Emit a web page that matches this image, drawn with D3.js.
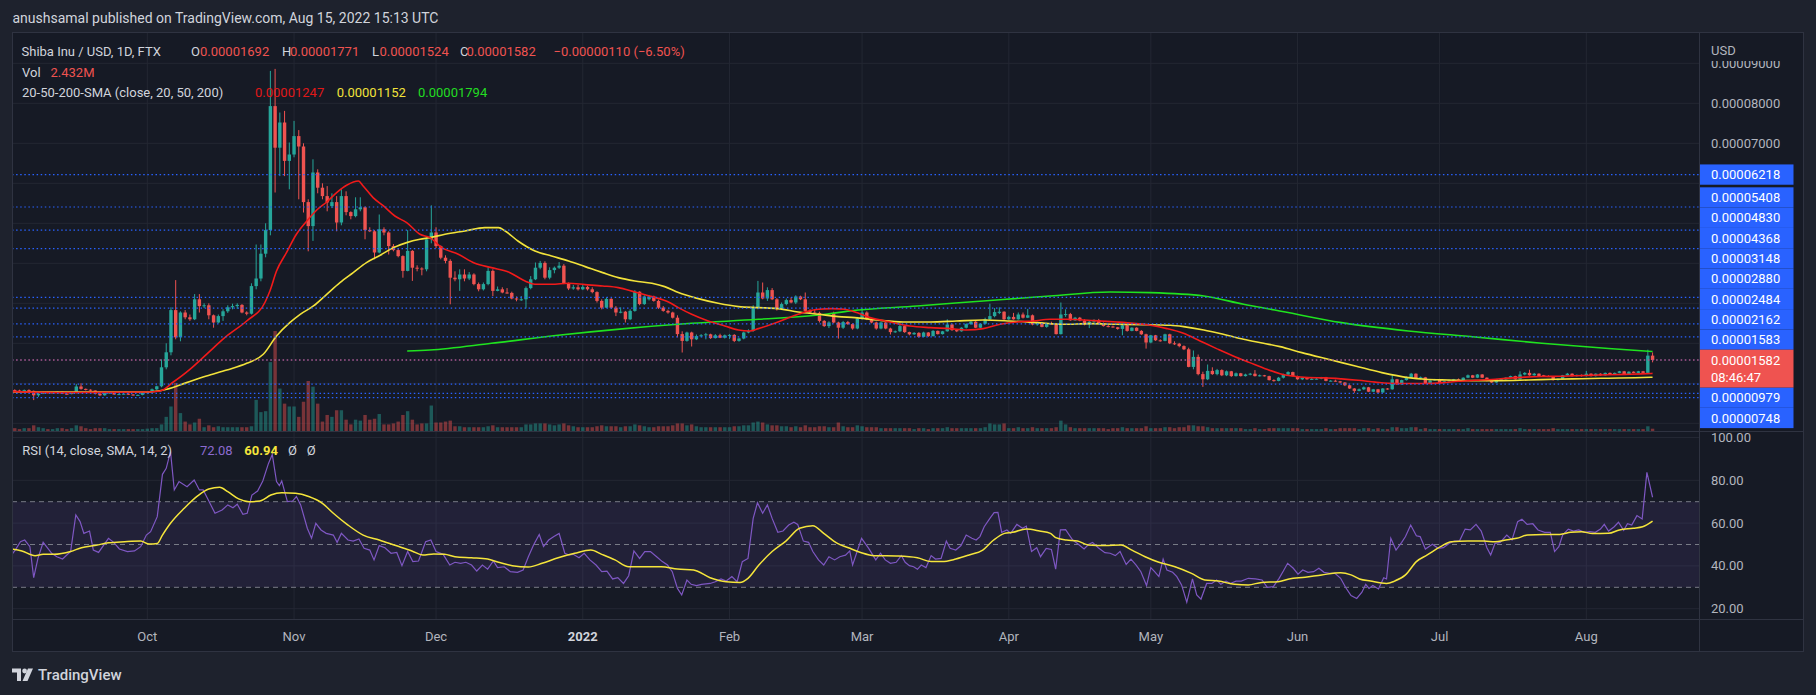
<!DOCTYPE html>
<html><head><meta charset="utf-8">
<script src="https://cdn.jsdelivr.net/npm/d3@7"></script>
<style>
html,body{margin:0;padding:0;background:#1e222d;}
svg{display:block;font-family:Roboto,"Noto Sans",sans-serif;}
</style></head><body>
<svg id="c" width="1816" height="695"></svg>
<script>
// ---------------- DATA ----------------
// prices in units of 1e-8 USD; day index d counted from 2021-10-01 (first candle d = -29)
const firstDay = -29;
const open = [
820,830,820,810,830,810,700,740,780,760, 770,790,740,730,760,920,860,840,820,740,
700,760,770,720,730,740,720,700,710, 760,780,850,925,1400,1775,2830,2150,2770,2650,
2600,3100,2930,2950,2700,2520,2680,2800,2900,2930, 2960,2770,2740,3430,3620,4240,4830,7930,6890,7520,
6560,6720,7180,6920,5530,4930,6270,5890,5680,5430, 5530,5020,5680,5280,5180,5350,5400,4830,4800,4270,
4850,4770,4430,4330,4180,3810,4310,3890,3870,3850, 4600,4770,4430,4140,4060,3640,3600,3720,3620,3720,
3480,3350,3480,3810,3310,3350,3270,3260,3120,3100, 3100,3380,3600,3890,4010,3640,3830,3890,3940,3500,
3370,3400,3350,3410,3350,3280,3060,2890,3110,2890, 2770,2790,2600,2810,3290,2980,3100,3170,3060,2890,
2810,2770,2640,2230,2060,2270,2100,2180,2200,2225, 2130,2200,2140,2200,2210,2060,2120,2270,2310,2890,
3270,3120,3330,3100,2850,2980,3080,3020,3170,3100, 2810,2770,2760,2560,2430,2740,2520,2390,2530,2480,
2370,2620,2770,2600,2520,2370,2520,2370,2280,2300, 2430,2280,2225,2260,2160,2270,2180,2310,2230,2300,
2470,2330,2300,2390,2480,2540,2390,2490,2600,2680, 2760,2790,2600,2660,2600,2720,2640,2700,2470,2520,
2410,2490,2480,2230,2720,2730,2575,2640,2570,2470, 2540,2580,2500,2430,2420,2400,2360,2450,2310,2390,
2310,2225,2020,2200,2075,2060,2225,2000,1990,1930, 1850,1410,1660,1230,1100,1310,1230,1330,1200,1300,
1180,1250,1180,1220,1240,1180,1200,1180,1080,1060, 1140,1220,1280,1180,1100,1140,1100,1110,1115,1150,
1060,1065,1050,1020,950,870,810,850,900,790, 850,770,870,850,1100,975,1080,1140,1240,1120,
1150,1000,1070,1100,1010,1050,1075,1100,1060,1140, 1200,1140,1220,1140,1060,1020,1100,1100,1140,1180,
1100,1220,1260,1200,1240,1200,1180,1175,1080,1110, 1200,1240,1180,1210,1180,1240,1180,1240,1200,1260,
1220,1260,1300,1220,1290,1260,1300,1260,1692
];
const high = [
860,850,840,845,850,820,760,790,790,780, 800,795,750,770,980,1000,870,850,825,760,
770,780,775,740,750,750,730,720,770, 800,870,940,1600,2000,2900,3580,2800,2830,2720,
3230,3230,3000,3000,2720,2720,2850,2950,2990,3000, 2980,2800,3500,4470,4470,5000,8810,8860,7770,7810,
7020,7560,7330,7000,5600,6600,6350,6000,5930,5750, 5680,5850,5800,5300,5650,5650,5420,4900,4830,5220,
4900,4800,4480,4360,4200,4830,4330,3950,3900,4650, 5450,4900,4450,4200,4100,3800,3850,3850,3780,3750,
3520,3520,3900,3850,3420,3400,3380,3290,3170,3180, 3420,3680,4020,4060,4050,3900,3920,4030,3980,3520,
3460,3460,3470,3440,3400,3300,3100,3150,3130,2930, 2900,2810,2850,3330,3300,3200,3210,3190,3090,2930,
2840,2790,2700,2300,2290,2290,2220,2230,2260,2240, 2230,2240,2220,2230,2230,2140,2290,2350,2950,3560,
3520,3400,3380,3130,3020,3120,3150,3200,3190,3270, 2850,2850,2790,2580,2550,2790,2540,2560,2560,2500,
2660,2890,2800,2620,2540,2540,2530,2390,2320,2520, 2440,2290,2280,2280,2290,2280,2330,2320,2310,2600,
2490,2350,2400,2500,2570,2560,2500,2640,2990,2880, 2900,2800,2690,2760,2770,2770,2860,2720,2540,2530,
2510,2540,2500,3020,2850,2760,2660,2660,2600,2560, 2600,2610,2520,2460,2440,2410,2490,2470,2400,2400,
2330,2240,2210,2210,2100,2240,2240,2050,2010,1950, 1890,1820,1720,1290,1470,1400,1360,1350,1320,1310,
1270,1260,1240,1260,1330,1220,1210,1190,1100,1160, 1240,1300,1290,1190,1160,1150,1130,1130,1160,1160,
1080,1090,1060,1030,960,880,870,920,910,860, 860,880,880,1220,1110,1090,1170,1260,1250,1170,
1160,1080,1110,1110,1060,1090,1110,1120,1150,1220, 1210,1230,1230,1150,1070,1110,1110,1150,1190,1190,
1300,1280,1340,1260,1250,1210,1200,1180,1120,1210, 1260,1250,1220,1220,1310,1250,1250,1250,1270,1270,
1270,1310,1310,1300,1300,1310,1310,1840,1771
];
const low = [
800,805,800,800,790,580,660,730,745,750, 760,730,715,725,750,840,820,800,720,680,
690,740,710,710,720,710,690,690,700, 740,770,830,900,1350,1700,2100,2050,2600,2560,
2580,2770,2880,2600,2390,2500,2560,2760,2850,2860, 2750,2700,2720,3350,3550,4150,4700,5770,6180,6180,
5850,6650,5600,5270,4300,4560,5750,5600,5300,5380, 4800,4950,5200,5100,5150,5300,4600,4780,4100,4250,
4700,4220,4300,4150,3640,3800,3560,3800,3700,3800, 4500,4380,4100,4000,2975,3550,3310,3550,3580,3450,
3300,3320,3450,3180,3300,3250,3240,3100,3050,3060, 2870,3350,3580,3850,3600,3600,3750,3860,3480,3330,
3340,3320,3330,3320,3250,3020,2850,2880,2860,2680, 2750,2520,2580,2790,2950,2960,3070,3040,2860,2790,
2740,2620,2150,1770,2040,1920,2080,2150,2100,2110, 2120,2130,2120,2110,2030,2040,2100,2250,2290,2850,
3100,3060,3080,2820,2830,2950,3000,2980,3080,2790, 2740,2740,2520,2410,2380,2500,2117,2360,2460,2340,
2350,2590,2580,2500,2340,2350,2350,2220,2260,2280, 2260,2200,2210,2140,2150,2160,2170,2220,2220,2290,
2310,2280,2290,2370,2460,2380,2370,2470,2580,2650, 2730,2580,2580,2590,2590,2620,2630,2450,2440,2400,
2390,2470,2220,2220,2660,2560,2560,2550,2450,2380, 2510,2480,2420,2400,2390,2340,2200,2290,2300,2300,
2210,1867,2000,2060,2040,2050,1980,1960,1900,1830, 1400,1350,1200,910,1080,1210,1200,1180,1180,1160,
1170,1170,1170,1200,1170,1170,1170,1070,1040,1050, 1120,1200,1170,1090,1080,1090,1090,1100,1100,1050,
1050,1040,1000,930,860,760,800,830,780,780, 760,760,840,840,960,960,1070,1130,1110,1100,
990,990,1060,1000,1000,1040,1070,1050,1050,1130, 1130,1130,1130,1050,1010,1010,1090,1090,1130,1090,
1090,1200,1190,1190,1170,1170,1170,1070,1070,1100, 1190,1170,1170,1170,1170,1170,1170,1190,1190,1210,
1210,1250,1210,1210,1250,1250,1250,1250,1524
];
const close = [
830,820,810,830,810,700,740,780,760,770, 790,740,730,760,920,860,840,820,740,700,
760,770,720,730,740,720,700,710,760, 780,850,925,1400,1775,2830,2150,2770,2650,2600,
3100,2930,2950,2700,2520,2680,2800,2900,2930,2960, 2770,2740,3430,3620,4240,4830,7930,6890,7520,6560,
6720,7180,6920,5530,4930,6270,5890,5680,5520,5530, 5020,5680,5280,5180,5350,5400,4830,4800,4270,4850,
4770,4430,4330,4180,3810,4310,3890,3870,3850,4600, 4770,4430,4140,4060,3640,3600,3720,3620,3720,3480,
3350,3480,3810,3310,3350,3270,3260,3120,3100,3100, 3380,3600,3890,4010,3640,3830,3890,3940,3500,3370,
3400,3350,3410,3350,3280,3060,2890,3110,2890,2770, 2790,2600,2810,3290,2980,3170,3170,3060,2890,2810,
2770,2640,2230,2060,2270,2100,2180,2200,2225,2130, 2200,2140,2200,2210,2060,2120,2270,2310,2890,3270,
3120,3330,3100,2850,2980,3080,3020,3170,3100,2810, 2770,2760,2560,2430,2520,2520,2390,2530,2480,2370,
2620,2770,2600,2520,2370,2520,2370,2280,2300,2430, 2280,2225,2260,2160,2270,2180,2310,2230,2300,2470,
2330,2300,2390,2480,2540,2390,2490,2600,2680,2780, 2790,2600,2660,2600,2720,2640,2700,2470,2520,2410,
2490,2480,2230,2720,2730,2575,2640,2570,2470,2540, 2580,2500,2430,2420,2400,2360,2450,2310,2390,2310,
2225,2020,2200,2075,2060,2225,2000,1990,1930,1850, 1410,1660,1230,1100,1310,1230,1330,1200,1300,1180,
1250,1180,1220,1240,1180,1200,1180,1080,1060,1140, 1220,1280,1180,1100,1140,1100,1110,1115,1150,1060,
1065,1050,1020,950,870,810,850,900,790,850, 770,870,850,1100,975,1080,1140,1240,1120,1150,
1000,1070,1100,1010,1050,1075,1100,1060,1140,1200, 1140,1220,1140,1060,1020,1100,1105,1140,1180,1100,
1220,1260,1200,1240,1180,1180,1175,1080,1110,1200, 1240,1180,1210,1180,1240,1180,1240,1200,1260,1220,
1260,1300,1220,1290,1260,1300,1260,1692,1582
];
const volume = [ // millions
3,3,2,3,3,6,4,3,2,2, 3,3,2,3,6,5,3,2,3,3,
3,2,2,2,2,2,2,2,2, 2.5,3,3,7,15,26,51,19,10,7,
9,13,4,6,4,5,4,4,4,4, 4,4,5,33,20,21,73,106,45,29,
26,26,15,31,53,47,29,10,17,15, 22,22,12,7,12,11,17,12,13,18,
7,7,8,10,17,21,12,7,8,8, 27,9,9,10,11,5,5,4,4,4,
4,4,5,6,4,4,4,4,4,4, 7,7,8,8,8,7,6,7,8,6,
5,4,4,4,4,5,6,5,5,5, 4,5,5,7,6,5,4,4,5,5,
5,6,8,8,6,7,5,4,4,4, 4,4,4,4,5,5,6,6,9,10,
9,7,6,6,5,5,4,5,4,6, 4,4,5,5,4,4,9,5,4,4,
6,5,4,4,4,3,3,3,3,3, 3,3,2,3,3,2,3,3,3,4,
3,3,3,3,3,3,3,4,8,7, 7,8,3,3,4,3,3,4,3,3,
3,3,4,11,7,4,3,3,3,3, 3,3,3,2,3,3,4,3,3,3,
3,5,3,3,3,4,4,3,4,4, 6,6,5,5,4,3,3,3,3,3,
3,3,2,2,3,2,2,3,3,3, 3,3,3,3,2,2,2,2,2,3,
2,2,3,3,3,3,2,3,3,2, 3,2,2,4,4,3,3,4,4,2,
3,2,2,2,2,2,2,2,2,3, 2,2,2,2,2,2,2,2,2,2,
3,2,2,2,2,2,2,3,2,2, 2,2,2,2,2,2,2,2,2,2,
2,2,2,2,2,2,2,5,2.432
];
// moving averages: [day index, value]
const sma20 = [[-29,792],[-17,767],[-0.1,783],[2.7,808],[5.5,1033],[9,1350],[12.5,1725],[16.8,2183],[21,2558],[24.9,3033],[25.9,3308],[27.3,3808],[29.4,4267],[31.5,4725],[33.7,5058],[35.8,5333],[37.9,5533],[40,5767],[42.1,5950],[44.6,6058],[45.6,5933],[47.7,5642],[49.9,5433],[52.3,5183],[54.8,5017],[57.6,4725],[59.7,4642],[62.2,4392],[65.7,4225],[69.2,4000],[72.7,3892],[76.3,3783],[79.8,3558],[81.9,3475],[85.4,3475],[89,3500],[92.5,3467],[96.2,3433],[99.5,3392],[103,3283],[106.6,3167],[110.1,3033],[112.2,2892],[115,2725],[118.5,2558],[122,2433],[124.9,2333],[127.3,2308],[129.1,2367],[131.9,2475],[134.7,2600],[137.5,2725],[139.7,2808],[141.8,2850],[144.6,2867],[147.4,2850],[149.5,2783],[152.7,2642],[156.9,2533],[161.1,2433],[165.4,2392],[169.6,2367],[173.1,2333],[176.6,2367],[180.2,2475],[183.7,2533],[187.2,2558],[190.7,2600],[194.3,2600],[197.8,2583],[201.3,2558],[204.8,2533],[208.4,2500],[211.9,2450],[215.4,2367],[218.9,2250],[222.4,2058],[225.9,1867],[229.4,1683],[232.9,1517],[236.5,1350],[239.3,1240],[241.8,1183],[245.3,1142],[248.8,1135],[252.3,1110],[255.8,1075],[259.4,1030],[262.2,1000],[266.4,995],[270,995],[273.5,1010],[277,1050],[280.5,1075],[284,1095],[287.6,1130],[291.1,1155],[294.6,1170],[298.1,1175],[301.6,1190],[305.1,1200],[308.7,1212],[312.2,1222],[315.7,1235],[318,1247]];
const sma50 = [[-29,783],[-10,783],[-0.1,783],[4.1,850],[8.3,1017],[12.5,1183],[16.8,1333],[21,1500],[24.5,1725],[27.3,2183],[30.1,2517],[32.3,2725],[35.1,2933],[37.9,3225],[40.7,3517],[43.5,3767],[46.3,4017],[49.2,4200],[52,4392],[54.8,4517],[57.6,4600],[59.7,4642],[62.9,4725],[67.1,4808],[71.3,4892],[74.2,4892],[75.6,4808],[78.3,4558],[81.9,4308],[85.4,4183],[89,4058],[92.5,3917],[96.2,3767],[99.5,3642],[103,3558],[106.6,3500],[109.3,3417],[112.2,3267],[116.4,3117],[120.6,3000],[124.9,2917],[129.1,2892],[133.3,2867],[137.5,2783],[141.8,2725],[146,2667],[149.5,2642],[154.1,2583],[159.7,2533],[165.4,2533],[170.9,2558],[176.6,2583],[182.2,2558],[187.9,2517],[193.5,2475],[199.2,2492],[204.8,2475],[210.5,2467],[216.1,2450],[218.9,2417],[223.2,2333],[227.3,2225],[231.6,2100],[235.8,2000],[239.3,1917],[243.9,1767],[249.5,1600],[255.2,1433],[260.8,1267],[266.4,1142],[270,1100],[274.9,1083],[280.5,1067],[286.1,1067],[291.8,1083],[297.4,1100],[303,1115],[308.7,1128],[314.3,1140],[318,1152]];
const sma200 = [[54.9,1808],[59.7,1833],[72.7,2000],[86.8,2200],[100.9,2367],[115,2500],[129.1,2600],[143.2,2725],[148.5,2810],[162.6,2933],[176.6,3058],[190.7,3183],[203.4,3283],[211.9,3267],[223.2,3183],[231.6,2975],[238.2,2833],[252.3,2517],[266.4,2308],[280.5,2158],[294.6,2000],[308.7,1870],[318,1794]];
// RSI(14) and its SMA(14)
const rsi = [[-28.6,45.4],[-27.9,47.4],[-26.8,51.3],[-25.9,52.1],[-24.8,49],[-24,34.5],[-23.1,43.5],[-22,51],[-20.2,45.9],[-19.1,44.3],[-17.9,43.2],[-16.2,46.7],[-15.1,63.8],[-14.2,60.7],[-13.4,55.2],[-12.2,56.3],[-11.4,47.4],[-10.3,46.3],[-8.2,52.9],[-7.1,51],[-5.9,47.9],[-4.2,46.7],[-2.7,47],[-1.4,49],[-0.2,54.4],[0.7,56],[2.1,63],[3.2,82.8],[4,85.6],[4.9,93.4],[5.7,75.5],[6.7,79.4],[8.4,77],[9.9,80.1],[11,75.5],[11.8,75.5],[13,70.3],[14.3,64.6],[15.8,66.1],[17,68.5],[18.1,67.2],[19,68.8],[20.2,64.1],[21.1,64.6],[22.1,73.1],[23.3,75],[24.4,79.7],[25.6,87.9],[26.4,92.1],[27.3,79.4],[27.9,77.5],[28.4,79.7],[29.6,70],[30.7,70.3],[31.5,72.4],[32.4,68.5],[33.8,57.6],[34.7,52.9],[35.6,59.9],[36.7,56.8],[37.8,55.2],[39.3,54.4],[40.1,51],[41,55.2],[42.4,52.1],[43.5,51.6],[44.7,52.6],[45.8,48.2],[47,47.4],[47.9,42.8],[49,49.5],[50.2,48.5],[51.5,45.9],[52.7,46.3],[53.8,40.1],[55,46.7],[56.1,42],[57.3,42.3],[58.8,51.3],[59.9,52.1],[61,46.7],[62.5,45.4],[63.9,40.4],[65,41.7],[66.2,41.2],[67.3,41.7],[68.5,40.4],[69.6,37.6],[70.8,40.4],[71.9,38.5],[73.1,42.3],[74,39.2],[75.4,39.6],[76.7,37.3],[78.2,37],[79.4,38.1],[80.5,44.3],[81.6,49.8],[82.8,54.7],[83.7,49],[84.8,52.1],[85.9,53.7],[87,55.2],[88.2,45.9],[89.1,45.1],[90,45.4],[91.2,43.8],[92.3,45.9],[93.5,42.8],[94.8,40.4],[96,37.3],[97.1,37.6],[98.3,33.9],[99.4,34.5],[100.6,31.8],[101.7,35.4],[102.8,47],[104,43.5],[105.1,46.7],[106.3,46.7],[107.6,44.3],[108.8,42],[109.9,40.4],[110.9,37.3],[112,29.5],[112.9,26.4],[114,33.4],[114.9,31.4],[116,30.8],[117.1,31.4],[118.9,31.8],[120,32.6],[121.2,33.9],[122.3,32.9],[123.5,35],[124.6,32.6],[125.7,42],[126.9,43.5],[128,62.2],[128.9,69.5],[130,64.6],[131,68.5],[132,62.2],[133.2,55.7],[134.3,56.3],[135.5,59.1],[136.6,60.4],[137.4,59.4],[138.6,51.6],[139.7,51],[140.6,46.7],[141.8,42.8],[142.9,40.4],[144,44.3],[145.2,42.8],[146.3,44.3],[147.5,45],[148.4,47],[149,40.4],[150.9,52.9],[152.4,48.2],[153.9,42.8],[154.9,45.9],[155.9,42.8],[157,41.2],[158.2,41.7],[159.3,44.8],[160.1,41.7],[161,40.1],[161.9,39.6],[162.7,38.4],[163.5,40.4],[164.5,39.2],[165.6,44.8],[166.5,43.2],[167.7,43.5],[168.8,51.6],[169.6,48.2],[170.8,47.4],[171.9,49.5],[173,54.4],[174.2,52.9],[175.1,52.1],[175.9,53.7],[176.8,58.3],[178,62.2],[178.9,64.9],[179.7,65],[180.5,55.7],[181.6,56.8],[182.4,55.2],[183.7,59.4],[184.9,57.6],[185.7,58.6],[186.8,46.7],[187.9,48.5],[188.7,44.3],[189.9,48.2],[191,47.7],[191.9,38.5],[192.9,56.8],[194,56.9],[195.5,52.1],[196.5,50.5],[197.9,47.9],[198.9,50.1],[199.7,51],[200.9,48.5],[202.3,46.2],[203.4,45.9],[204.5,44.8],[205.5,46.7],[206.8,40.7],[207.8,43.2],[208.9,40.4],[209.9,37.3],[211.1,30.8],[212,39.2],[212.8,37.3],[213.7,35],[214.6,43.2],[215.4,38.1],[216.6,37],[217.5,35],[218.5,31.1],[219.6,23],[220.8,33.9],[221.7,26.4],[222.6,24.5],[223.8,31.8],[224.9,31.8],[225.9,33.4],[226.8,31.4],[227.9,32.9],[228.8,31.8],[230,32.9],[231.1,32.9],[232.6,34.2],[234.1,33.9],[235.5,33.4],[236.6,30],[237.9,30.3],[239.1,34.2],[240,37.6],[240.9,41.2],[242.1,38.9],[243.1,36.1],[244.1,38.1],[245.2,37],[246.4,37.3],[247.5,38.9],[248.6,37],[249.8,36.5],[250.9,36.5],[252.1,34.2],[253.2,29.8],[254.3,26.1],[255.5,24.8],[256.6,27.7],[257.4,31.4],[258.1,29.5],[258.9,30.8],[260.1,29.2],[261.2,34.5],[261.8,33.9],[262.7,52.9],[263.8,47.4],[265,51],[265.8,53.7],[266.9,59.1],[268.1,54.1],[268.9,53.7],[270,47.9],[271.5,50.1],[272.7,48.2],[273.8,48.5],[275,50.5],[276.1,51.6],[277.2,51.6],[278.4,57.2],[279.5,56.8],[280.7,59.4],[281.8,56.3],[283,48.5],[283.8,45.1],[284.7,50.5],[285.8,51],[287.2,54.4],[288.3,52.1],[289.5,60.7],[290.4,61.8],[291.5,59.4],[292.7,59.7],[293.8,56.8],[295.2,55.7],[296.4,55.7],[297.3,46.7],[298.2,49],[299,54.4],[300.2,57.2],[301.3,56.3],[302.4,56.8],[303.6,55.7],[304.7,56],[305.9,55.7],[307,57.2],[307.8,59.4],[308.7,56.3],[309.9,58.3],[310.8,60.4],[311.9,56.6],[312.7,59.7],[313.6,59.1],[314.7,63.5],[315.8,61.9],[316.8,83.7],[318,72.08]];
const rsiMa = [[-28.6,47.9],[-26.5,47],[-23.7,44.8],[-22,45.4],[-19.7,45.4],[-16.2,46.7],[-13.9,48.5],[-11.1,49.5],[-8.2,50.8],[-4.8,51.3],[-1.4,51.6],[0.4,50.2],[2.1,50.5],[3.2,54.4],[4.9,59.9],[7.8,66.9],[10.7,72.8],[13,75.9],[15.3,76.7],[17,74.7],[19.3,71.3],[21.5,70],[23.8,70.3],[26.1,73.1],[28.4,74.2],[31.3,73.9],[34.1,72.4],[37,69.2],[39.3,64.6],[42.2,59.4],[45.6,54.4],[49,52.1],[52.5,49.5],[55.9,47],[58.2,45.1],[60.5,45.6],[62.8,45.4],[65,44.3],[68.5,43.8],[71.9,43.2],[74.2,41.7],[77.1,40.1],[80.5,39.5],[83.4,41.2],[86.8,43.8],[90.3,45.9],[93.7,47.4],[96,45.4],[98.8,42.8],[101.7,39.6],[105.1,39.6],[108.6,39.6],[112,38.5],[115.4,38.1],[118.9,34.5],[122.3,32.6],[125.2,32.3],[126.9,34.2],[129.2,40.4],[132,46.7],[134.9,51.6],[137.8,57.6],[140.6,58.8],[142.9,55.2],[145.8,50.5],[148.1,48.5],[150.7,46.3],[153.6,44.8],[158.7,44.6],[162.7,43.8],[165.6,42],[167.9,42],[170.8,43.2],[173.6,45.1],[176.5,47.4],[178.8,52.1],[181.1,55.2],[182.8,55.7],[185.7,57.2],[188.5,56.3],[190.8,55.2],[191.9,53.2],[194.2,52.1],[196.5,51.6],[198.8,49.8],[202.3,49.5],[205.7,49.8],[208,47.4],[210.8,44.3],[213.7,41.7],[217.1,39.6],[220.6,36.5],[223.4,33.4],[226.3,32.9],[229.7,31.4],[232.6,31.1],[235.4,32.3],[238.9,32.6],[241.2,33.9],[244.6,34.7],[248.1,35.8],[252.1,36.8],[254.3,35.8],[256.1,33.9],[258.4,32.9],[261.8,31.8],[263.5,32.9],[265.8,35.8],[268.1,42],[270.4,45.1],[273.2,49],[275.5,51.3],[279,51.6],[282.4,51.6],[284.7,51.3],[287,52.1],[289.3,52.9],[291.6,54.4],[295,54.7],[298.4,54.7],[300.7,55.7],[303,56],[305.3,55.1],[308.7,55.2],[311,56.8],[313.9,57.6],[315.9,58.3],[318,60.94]];
// horizontal price levels drawn on the chart (1e-8 USD)
const levels = [6218,5408,4830,4368,3148,2880,2484,2162,1583,979,748,642];
const lastPrice = 1582;
const countdown = "08:46:47";
const priceTicks = [0,1000,2000,3000,4000,5000,6000,7000,8000,9000];
const rsiTicks = [20,40,60,80,100];
const rsiBands = [70,50,30];
const monthTicks = ["2021-10-01","2021-11-01","2021-12-01","2022-01-01","2022-02-01","2022-03-01","2022-04-01","2022-05-01","2022-06-01","2022-07-01","2022-08-01"];
const monthLabels = ["Oct","Nov","Dec","2022","Feb","Mar","Apr","May","Jun","Jul","Aug"];
const headerText = "anushsamal published on TradingView.com, Aug 15, 2022 15:13 UTC";

// ---------------- LAYOUT ----------------
const F = {left:12, right:1804, top:32, axisX:1699.5, mainBottom:431.5, rsiTop:432, rsiBottom:619.5, bottom:652};
const C = {outer:"#1e222d", bg:"#161a25", grid:"#232733", frame:"#2f3341", text:"#b2b5be", up:"#26a69a", down:"#ef5350",
  blue:"#2962ff", red:"#f23645", sma20:"#f21a1a", sma50:"#f2e23a", sma200:"#1fe21f", rsi:"#7e57c2", rsiMa:"#f5e53b"};
const svg = d3.select("#c");
const day0 = Date.UTC(2021,9,1);
const dateOf = d => new Date(day0 + d*864e5);
const x = d3.scaleUtc().domain([new Date(Date.UTC(2021,9,1)), new Date(Date.UTC(2022,7,1))]).range([147.3,1586.3]);
const y = d3.scaleLinear().domain([0,9000]).range([423.3,63.3]);
const yv = d3.scaleLinear().domain([0,d3.max(volume)]).range([431,331]);
const yr = d3.scaleLinear().domain([20,100]).range([608.7,437.5]);
const fmtP = v => (v*1e-8).toFixed(8);

svg.append("rect").attr("width",1816).attr("height",695).attr("fill",C.outer);
svg.append("rect").attr("x",F.left).attr("y",F.top).attr("width",F.right-F.left).attr("height",F.bottom-F.top).attr("fill",C.bg);

const defs = svg.append("defs");
defs.append("clipPath").attr("id","mainClip").append("rect").attr("x",F.left).attr("y",F.top).attr("width",F.axisX-F.left).attr("height",F.mainBottom-F.top);
defs.append("clipPath").attr("id","rsiClip").append("rect").attr("x",F.left).attr("y",F.rsiTop).attr("width",F.axisX-F.left).attr("height",F.rsiBottom-F.rsiTop);
defs.append("clipPath").attr("id","axisClip").append("rect").attr("x",F.axisX).attr("y",F.top).attr("width",F.right-F.axisX).attr("height",F.mainBottom-F.top);

// grid
const grid = svg.append("g");
const monthDates = monthTicks.map(s => new Date(s+"T00:00:00Z"));
monthDates.forEach(dt => {
  grid.append("line").attr("x1",x(dt)).attr("x2",x(dt)).attr("y1",F.top).attr("y2",F.rsiBottom).attr("stroke",C.grid);
});
const main = svg.append("g").attr("clip-path","url(#mainClip)");
priceTicks.forEach(t => main.append("line").attr("x1",F.left).attr("x2",F.axisX).attr("y1",y(t)).attr("y2",y(t)).attr("stroke",C.grid));

// volume
const N = close.length;
const bw = (x(dateOf(1))-x(dateOf(0)))*0.72;
for (let i=0;i<N;i++){
  const cx = x(dateOf(i+firstDay));
  const up = close[i]>=open[i];
  main.append("rect").attr("x",cx-bw/2).attr("y",yv(volume[i])).attr("width",bw).attr("height",yv(0)-yv(volume[i]))
    .attr("fill", up? "rgba(38,166,154,0.45)":"rgba(239,83,80,0.45)");
}
// candles
for (let i=0;i<N;i++){
  const cx = x(dateOf(i+firstDay));
  const up = close[i]>=open[i];
  const col = up?C.up:C.down;
  main.append("line").attr("x1",cx).attr("x2",cx).attr("y1",y(high[i])).attr("y2",y(low[i])).attr("stroke",col).attr("stroke-width",1);
  const top = y(Math.max(open[i],close[i])), bot = y(Math.min(open[i],close[i]));
  main.append("rect").attr("x",cx-bw/2).attr("y",top).attr("width",bw).attr("height",Math.max(1,bot-top)).attr("fill",col);
}
// SMAs
const smaLine = d3.line().x(p=>x(dateOf(p[0]))).y(p=>y(p[1])).curve(d3.curveMonotoneX);
[[sma200,C.sma200],[sma50,C.sma50],[sma20,C.sma20]].forEach(([s,c]) => {
  main.append("path").attr("d",smaLine(s)).attr("fill","none").attr("stroke",c).attr("stroke-width",1.6);
});
// horizontal levels
levels.forEach(v => main.append("line").attr("x1",F.left).attr("x2",F.axisX).attr("y1",y(v)).attr("y2",y(v))
  .attr("stroke",C.blue).attr("stroke-width",1.2).attr("stroke-dasharray","1.5,2.6"));
main.append("line").attr("x1",F.left).attr("x2",F.axisX).attr("y1",y(lastPrice)).attr("y2",y(lastPrice))
  .attr("stroke",C.down).attr("stroke-width",1.2).attr("stroke-dasharray","1.5,2.6");

// RSI pane
const rp = svg.append("g").attr("clip-path","url(#rsiClip)");
rsiTicks.forEach(t => rp.append("line").attr("x1",F.left).attr("x2",F.axisX).attr("y1",yr(t)).attr("y2",yr(t)).attr("stroke",C.grid));
rp.append("rect").attr("x",F.left).attr("width",F.axisX-F.left).attr("y",yr(rsiBands[0])).attr("height",yr(rsiBands[2])-yr(rsiBands[0])).attr("fill","rgba(126,87,194,0.12)");
rsiBands.forEach(t => rp.append("line").attr("x1",F.left).attr("x2",F.axisX).attr("y1",yr(t)).attr("y2",yr(t))
  .attr("stroke","#787b86").attr("stroke-dasharray","5,4"));
const rl = d3.line().x(p=>x(dateOf(p[0]))).y(p=>yr(p[1]));
rp.append("path").attr("d",rl(rsi)).attr("fill","none").attr("stroke",C.rsi).attr("stroke-width",1.2);
rp.append("path").attr("d",rl.curve(d3.curveMonotoneX)(rsiMa)).attr("fill","none").attr("stroke",C.rsiMa).attr("stroke-width",1.5);

// frame lines
const fr = svg.append("g").attr("stroke",C.frame).attr("fill","none");
fr.append("rect").attr("x",F.left+0.5).attr("y",F.top+0.5).attr("width",F.right-F.left-1).attr("height",F.bottom-F.top-1);
fr.append("line").attr("x1",F.left).attr("x2",F.right).attr("y1",F.mainBottom).attr("y2",F.mainBottom);
fr.append("line").attr("x1",F.left).attr("x2",F.right).attr("y1",F.rsiBottom).attr("y2",F.rsiBottom);
fr.append("line").attr("x1",F.axisX).attr("x2",F.axisX).attr("y1",F.top).attr("y2",F.bottom);

// price axis: level labels stacked around the last-price label
const ax = svg.append("g").attr("clip-path","url(#axisClip)").attr("font-size",13);
const LH = 20.3;
const redTop = y(lastPrice) - 10.3, redBot = redTop + 37.8;
const above = levels.filter(v=>v>=lastPrice).sort((a,b)=>a-b);
const below = levels.filter(v=>v<lastPrice).sort((a,b)=>b-a);
let lim = redTop; const placed = [];
above.forEach(v => { const c = Math.min(y(v), lim - LH/2); placed.push([v,c]); lim = c - LH/2; });
lim = redBot;
below.forEach(v => { const c = Math.max(y(v), lim + LH/2); if (c < F.mainBottom) placed.push([v,c]); lim = c + LH/2; });
// plain tick labels only where no level label covers them
const covered = t => {
  const ty = y(t);
  if (ty > redTop - 7 && ty < redBot + 7) return true;
  return placed.some(([v,c]) => Math.abs(ty - c) < LH/2 + 7) || ty > F.mainBottom - 8;
};
priceTicks.filter(t => !covered(t)).forEach(t => ax.append("text").attr("x",1711).attr("y",y(t)).attr("dy","0.35em").attr("fill",C.text).text(fmtP(t)));
placed.forEach(([v,c]) => {
  ax.append("rect").attr("x",F.axisX+0.5).attr("y",c-LH/2).attr("width",93.5).attr("height",LH).attr("fill",C.blue);
  ax.append("text").attr("x",1711).attr("y",c).attr("dy","0.35em").attr("fill","#fff").text(fmtP(v));
});
ax.append("rect").attr("x",F.axisX+0.5).attr("y",redTop).attr("width",93.5).attr("height",redBot-redTop).attr("fill",C.down);
ax.append("text").attr("x",1711).attr("y",redTop+10.5).attr("dy","0.35em").attr("fill","#fff").text(fmtP(lastPrice));
ax.append("text").attr("x",1711).attr("y",redTop+27.5).attr("dy","0.35em").attr("fill","#fff").text(countdown);
ax.append("rect").attr("x",F.axisX+0.5).attr("y",F.top+1).attr("width",F.right-F.axisX-1.5).attr("height",28).attr("fill",C.bg);
ax.append("text").attr("x",1711).attr("y",50).attr("dy","0.35em").attr("fill",C.text).text("USD");

// RSI axis
rsiTicks.forEach(t => svg.append("text").attr("x",1711).attr("y",yr(t)).attr("dy","0.35em").attr("font-size",13).attr("fill",C.text).text(t.toFixed(2)));

// time axis
monthDates.forEach((dt,i) => {
  svg.append("text").attr("x",x(dt)).attr("y",636.7).attr("dy","0.35em").attr("text-anchor","middle")
    .attr("font-size",13).attr("font-weight", monthLabels[i]==="2022"?"bold":"normal")
    .attr("fill", monthLabels[i]==="2022"?"#d1d4dc":C.text).text(monthLabels[i]);
});

// header
svg.append("text").attr("x",12.5).attr("y",18.3).attr("dy","0.35em").attr("font-size",14).attr("fill","#d1d4dc").text(headerText);

// legends
const lg = svg.append("g").attr("font-size",13);
function put(xp, yp, s, col, w){ lg.append("text").attr("x",xp).attr("y",yp).attr("dy","0.35em").attr("fill",col).attr("font-weight",w||"normal").text(s); }
const lastI = N-1;
put(21.5,51.7,"Shiba Inu / USD, 1D, FTX","#d1d4dc");
put(191,51.7,"O","#d1d4dc"); put(200,51.7,fmtP(open[lastI]),C.down);
put(282,51.7,"H","#d1d4dc"); put(290,51.7,fmtP(high[lastI]),C.down);
put(372,51.7,"L","#d1d4dc"); put(379.5,51.7,fmtP(low[lastI]),C.down);
put(460,51.7,"C","#d1d4dc"); put(466.5,51.7,fmtP(close[lastI]),C.down);
const chg = close[lastI]-open[lastI];
put(553.6,51.7,"\u2212"+fmtP(Math.abs(chg))+" (\u2212"+(Math.abs(chg)/open[lastI]*100).toFixed(2)+"%)",C.down);
put(22,72.7,"Vol","#d1d4dc"); put(50.5,72.7,volume[lastI].toFixed(3)+"M",C.down);
put(22,92.7,"20-50-200-SMA (close, 20, 50, 200)","#d1d4dc");
put(255,92.7,fmtP(sma20[sma20.length-1][1]),"#e01818");
put(336.7,92.7,fmtP(sma50[sma50.length-1][1]),C.sma50);
put(418,92.7,fmtP(sma200[sma200.length-1][1]),"#22dd22");
put(22.3,450.7,"RSI (14, close, SMA, 14, 2)","#d1d4dc");
put(200,450.7,rsi[rsi.length-1][1].toFixed(2),"#8c6ad0");
put(244.3,450.7,rsiMa[rsiMa.length-1][1].toFixed(2),C.rsiMa,"bold");
put(288,450.7,"\u00d8","#d1d4dc"); put(306.7,450.7,"\u00d8","#d1d4dc");

// TradingView logo
const logo = svg.append("g").attr("fill","#d1d4dc");
logo.append("path").attr("d","M12,668.5 h9 v12.5 h-4 v-8.5 h-5 z");
logo.append("circle").attr("cx",24.6).attr("cy",671).attr("r",2.4);
logo.append("path").attr("d","M28,668.5 h5 l-5.5,12.5 h-5 z");
svg.append("text").attr("x",38).attr("y",675).attr("dy","0.35em").attr("font-size",15).attr("fill","#d1d4dc").attr("font-weight","500").text("TradingView");
</script></body></html>
